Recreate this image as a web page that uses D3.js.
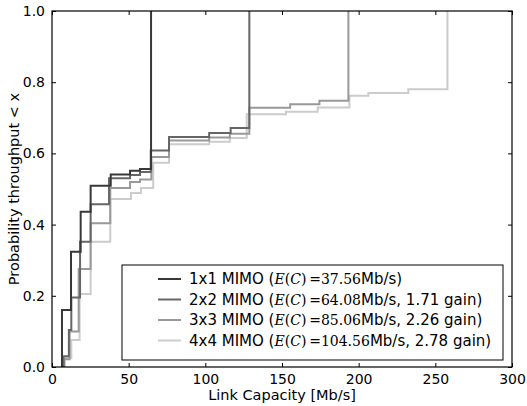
<!DOCTYPE html>
<html>
<head>
<meta charset="utf-8">
<script src="https://cdn.jsdelivr.net/npm/d3@7"></script>
<style>
  body { margin: 0; background: #fff; }
  text { font-family: "DejaVu Sans", sans-serif; }
</style>
</head>
<body>
<div id="chart"></div>
<script>
// step positions (Mb/s) and CDF level reached at each step
const names = ["1x1", "2x2", "3x3", "4x4"];
const colours = ["#383838", "#666666", "#999999", "#cccccc"];
const means = ["37.56", "64.08", "85.06", "104.56"];
const gains = [null, "1.71", "2.26", "2.78"];

const x1 = [6.5, 12.4, 18.7, 25.2, 38.3, 50.9, 57.4, 64.6];
const y1 = [0.16, 0.324, 0.436, 0.509, 0.541, 0.551, 0.556, 1];
const x2 = [7.5, 11, 12.6, 18.3, 25.2, 37.2, 50.9, 57.4, 64.4, 76.3, 102.5, 116.5, 128.7];
const y2 = [0.03, 0.104, 0.195, 0.352, 0.457, 0.53, 0.539, 0.548, 0.608, 0.646, 0.657, 0.671, 1];
const x3 = [7.8, 11.5, 17.4, 25.2, 38, 50.9, 57.4, 64.8, 76.3, 102.5, 116, 128.7, 155.3, 174.4, 193.3];
const y3 = [0.022, 0.1, 0.275, 0.404, 0.503, 0.52, 0.527, 0.59, 0.636, 0.645, 0.655, 0.728, 0.738, 0.748, 1];
const x4 = [8.5, 12.6, 18, 25.2, 38, 51.5, 58, 66, 76.3, 102.5, 116, 127, 152.6, 173.3, 194, 206.3, 232.4, 257.9];
const y4 = [0.025, 0.076, 0.205, 0.352, 0.472, 0.489, 0.503, 0.574, 0.626, 0.633, 0.643, 0.71, 0.717, 0.729, 0.762, 0.77, 0.78, 1];

const xTicks = [0, 50, 100, 150, 200, 250, 300];
const yTicks = [0, 0.2, 0.4, 0.6, 0.8, 1.0];

const W = 527, H = 406;
const m = { top: 11, right: 15, bottom: 39, left: 52 };
const w = W - m.left - m.right, h = H - m.top - m.bottom;

const svg = d3.select("#chart").append("svg")
    .attr("width", W).attr("height", H);
const g = svg.append("g").attr("transform", `translate(${m.left},${m.top})`);

const x = d3.scaleLinear().domain([0, 300]).range([0, w]);
const y = d3.scaleLinear().domain([0, 1]).range([h, 0]);

g.append("defs").append("clipPath").attr("id", "clip")
  .append("rect").attr("width", w).attr("height", h);

// build step series: start at (first x, 0) then step-after through each level
const series = [[x1, y1], [x2, y2], [x3, y3], [x4, y4]].map(([xs, ys]) => {
    const pts = [[xs[0], 0]];
    xs.forEach((v, i) => pts.push([v, ys[i]]));
    return pts;
});

const line = d3.line()
    .x(d => x(d[0])).y(d => y(d[1]))
    .curve(d3.curveStepAfter);

g.append("g").attr("clip-path", "url(#clip)")
  .selectAll("path").data(series.slice().reverse())
  .join("path")
    .attr("d", line)
    .attr("fill", "none")
    .attr("stroke", (d, i) => colours[3 - i])
    .attr("stroke-width", 2);

// axes with inward ticks on all four sides
const tick = 4;
const axBottom = g.append("g").attr("transform", `translate(0,${h})`)
    .call(d3.axisBottom(x).tickValues(xTicks).tickSize(-tick).tickPadding(6).tickFormat(d3.format("d")));
const axTop = g.append("g")
    .call(d3.axisTop(x).tickValues(xTicks).tickSize(-tick).tickFormat(""));
const axLeft = g.append("g")
    .call(d3.axisLeft(y).tickValues(yTicks).tickSize(-tick).tickPadding(7).tickFormat(d3.format(".1f")));
const axRight = g.append("g").attr("transform", `translate(${w},0)`)
    .call(d3.axisRight(y).tickValues(yTicks).tickSize(-tick).tickFormat(""));

[axBottom, axTop, axLeft, axRight].forEach(a => {
    a.select(".domain").remove();
    a.selectAll("line").attr("stroke", "#000");
    a.selectAll("text").attr("font-size", 14).attr("fill", "#000")
      .attr("font-family", "DejaVu Sans");
});
axBottom.selectAll("text").attr("dy", "0.8em");

g.append("rect").attr("width", w).attr("height", h)
  .attr("fill", "none").attr("stroke", "#000").attr("stroke-width", 1.2);

svg.append("text")
  .attr("x", m.left + w / 2).attr("y", H - 6)
  .attr("text-anchor", "middle").attr("font-size", 14.5)
  .text("Link Capacity [Mb/s]");

svg.append("text")
  .attr("transform", `translate(19,${m.top + h / 2}) rotate(-90)`)
  .attr("text-anchor", "middle").attr("font-size", 14.5)
  .text("Probability throughput < x");

// legend
const lg = svg.append("g").attr("transform", "translate(122,265)");
lg.append("rect").attr("width", 381).attr("height", 95)
  .attr("fill", "#fff").attr("stroke", "#000").attr("stroke-width", 1);

const serif = "DejaVu Serif";
names.forEach((n, i) => {
    const yy = 14 + i * 20.5;
    lg.append("line")
      .attr("x1", 36).attr("x2", 59).attr("y1", yy).attr("y2", yy)
      .attr("stroke", colours[i]).attr("stroke-width", 2);
    const t = lg.append("text").attr("x", 67).attr("y", yy + 5).attr("font-size", 15);
    t.append("tspan").text(`${n} MIMO (`);
    const mt = { "font-family": serif, "font-size": 14 };
    const math = (s, it) => {
        const sp = t.append("tspan").attr("font-family", serif).attr("font-size", 14).text(s);
        if (it) sp.attr("font-style", "italic");
    };
    math("E", true);
    math("(");
    math("C", true);
    math(")\u2009=");
    math(means[i]);
    t.append("tspan").text(gains[i] ? `Mb/s, ${gains[i]} gain)` : "Mb/s)");
});
</script>
</body>
</html>
